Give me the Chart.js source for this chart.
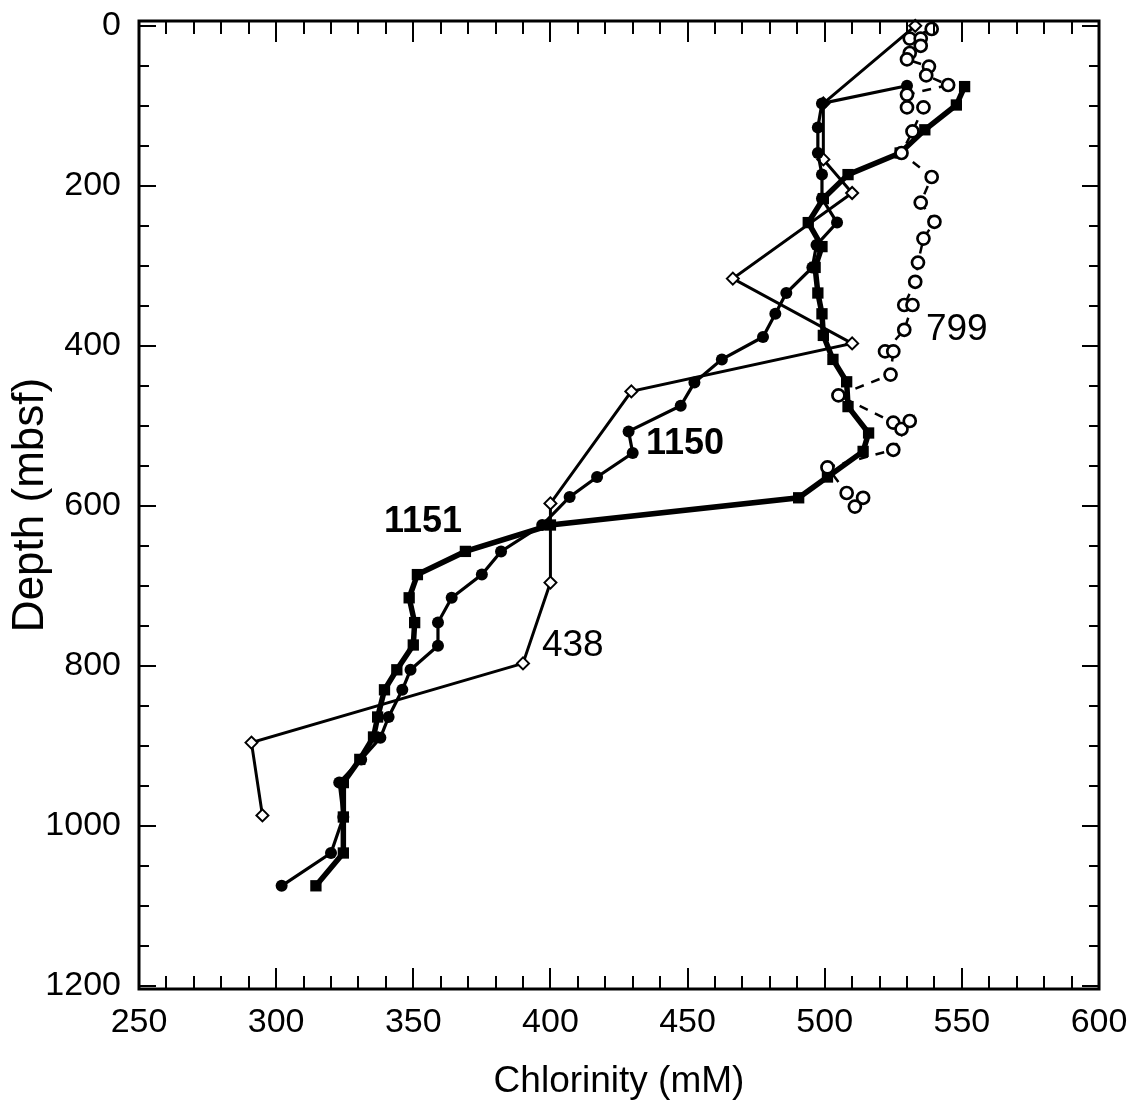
<!DOCTYPE html>
<html>
<head>
<meta charset="utf-8">
<script src="https://cdn.jsdelivr.net/npm/chart.js@4.4.1/dist/chart.umd.min.js"></script>
<style>
  html, body { margin: 0; padding: 0; background: #ffffff; }
  canvas { display: block; }
</style>
</head>
<body>
<canvas id="chlChart" width="1135" height="1108"></canvas>
<script>
// Site 799 (open circles, dashed)
const chl799 = [539, 531, 535, 535, 531, 530, 538, 537, 545, 530, 530, 536, 532, 528, 539, 535, 540, 536, 534, 533, 529, 532, 529, 522, 525, 524, 505, 525, 528, 531, 525, 501, 508, 514, 511];
const dep799 = [4, 16, 16, 25, 34, 42, 51, 62, 74, 86, 102, 102, 132, 159, 189, 221, 245, 266, 296, 320, 349, 349, 380, 407, 407, 436, 462, 496, 504, 494, 530, 552, 584, 590, 601];

// Site 1150 (filled circles)
const chl1150 = [530, 499, 497.5, 497.5, 499, 499, 504.5, 497, 495.5, 486, 482, 477.5, 462.5, 452.5, 447.5, 428.5, 430, 417, 407, 397, 382, 375, 364, 359, 359, 349, 346, 341, 338, 331, 323, 324.5, 320, 302];
const dep1150 = [75, 97, 127, 159, 186, 216, 246, 274, 302, 334, 360, 389, 417, 446, 475, 507, 534, 564, 589, 624, 657, 686, 715, 746, 775, 805, 830, 864, 890, 917, 946, 989, 1034, 1075];

// Site 1151 (filled squares, thick line)
const chl1151 = [551, 548, 536.5, 527.5, 508.5, 499.5, 494, 499, 496.5, 497.5, 499, 499.5, 503, 508, 508.5, 516, 514, 501, 490.5, 400, 369, 351.5, 348.5, 350.5, 350, 344, 339.5, 337, 335.5, 330.5, 324.5, 324.5, 324.5, 314.5];
const dep1151 = [76, 99, 130, 159, 186, 216, 246, 276, 302, 334, 360, 387, 417, 445, 476, 509, 532, 564, 590, 624, 657, 686, 715, 746, 774, 805, 830, 864, 889, 917, 946, 989, 1034, 1075];

// Site 438 (open diamonds)
const chl438 = [533, 499.5, 499.5, 510, 466.5, 510, 429.5, 400, 400, 390, 291, 295];
const dep438 = [0, 97, 167, 209, 316, 397, 457, 597, 696, 797, 896, 987];

// axis ticks
const xTicks = [250, 300, 350, 400, 450, 500, 550, 600];
const yTicks = [0, 200, 400, 600, 800, 1000, 1200];
const xMinor = [];
for (let v = 250; v <= 600; v += 10) xMinor.push(v);
const yMinor = [];
for (let v = 0; v <= 1200; v += 50) yMinor.push(v);

// curve labels
const siteLabels = [
  { text: "799", x: 536.9, y: 380, bold: false },
  { text: "438", x: 396.9, y: 775, bold: false },
  { text: "1150", x: 434.8, y: 523, bold: true },
  { text: "1151", x: 339.3, y: 620, bold: true },
];

const toPoints = (xs, ys) => xs.map((v, i) => ({ x: v, y: ys[i] }));

Chart.defaults.font.family = "'Liberation Sans', Arial, sans-serif";
Chart.defaults.color = "#000000";

// frame, inward ticks and site labels
const framePlugin = {
  id: "frame",
  afterDraw(chart) {
    const c = chart.ctx;
    const { left, right, top, bottom } = chart.chartArea;
    const xs = chart.scales.x;
    const ys = chart.scales.y;
    c.save();
    c.strokeStyle = "#000";
    c.lineWidth = 2;
    c.beginPath();
    xMinor.forEach((v) => {
      const px = Math.round(xs.getPixelForValue(v));
      const len = v % 50 === 0 ? 21 : 13;
      c.moveTo(px, bottom); c.lineTo(px, bottom - len);
      c.moveTo(px, top); c.lineTo(px, top + len);
    });
    yMinor.forEach((v) => {
      const py = Math.round(ys.getPixelForValue(v));
      const len = v % 200 === 0 ? 17 : 10;
      c.moveTo(left, py); c.lineTo(left + len, py);
      c.moveTo(right, py); c.lineTo(right - len, py);
    });
    c.stroke();
    c.lineWidth = 3;
    c.strokeRect(left, top, right - left, bottom - top);

    c.fillStyle = "#000";
    c.textAlign = "left";
    c.textBaseline = "middle";
    siteLabels.forEach((l) => {
      c.font = (l.bold ? "bold 36px " : "37px ") + "'Liberation Sans', Arial, sans-serif";
      c.fillText(l.text, xs.getPixelForValue(l.x), ys.getPixelForValue(l.y));
    });
    c.restore();
  },
};

const ctx = document.getElementById("chlChart").getContext("2d");
let chlChart = new Chart(ctx, {
  type: "scatter",
  data: {
    datasets: [
      {
        label: "799",
        data: toPoints(chl799, dep799),
        showLine: true,
        borderColor: "#000",
        borderWidth: 2.5,
        borderDash: [9, 8],
        pointStyle: "circle",
        pointRadius: 6,
        pointBorderWidth: 2.7,
        pointBackgroundColor: "#fff",
        pointBorderColor: "#000",
        order: 0,
        clip: false,
      },
      {
        label: "1151",
        data: toPoints(chl1151, dep1151),
        showLine: true,
        borderColor: "#000",
        borderWidth: 5.5,
        pointStyle: "rect",
        pointRadius: 8,
        pointBorderWidth: 0,
        pointBackgroundColor: "#000",
        order: 1,
        clip: false,
      },
      {
        label: "1150",
        data: toPoints(chl1150, dep1150),
        showLine: true,
        borderColor: "#000",
        borderWidth: 3.2,
        pointStyle: "circle",
        pointRadius: 6,
        pointBorderWidth: 0,
        pointBackgroundColor: "#000",
        order: 2,
        clip: false,
      },
      {
        label: "438",
        data: toPoints(chl438, dep438),
        showLine: true,
        borderColor: "#000",
        borderWidth: 3,
        pointStyle: "rectRot",
        pointRadius: 6,
        pointBorderWidth: 2,
        pointBackgroundColor: "#fff",
        pointBorderColor: "#000",
        order: 3,
        clip: false,
      },
    ],
  },
  options: {
    responsive: false,
    animation: false,
    devicePixelRatio: 1,
    layout: { padding: { top: 21, right: 36, left: 0, bottom: 0 } },
    scales: {
      x: {
        type: "linear",
        position: "bottom",
        min: 250,
        max: 600,
        afterBuildTicks: (axis) => { axis.ticks = xTicks.map((v) => ({ value: v })); },
        afterFit: (axis) => {
          axis.height = 119;
          axis.paddingLeft = 0;
          axis.paddingRight = 0;
        },
        grid: { display: false, drawTicks: false },
        border: { display: false },
        ticks: { font: { size: 34 }, padding: 13, color: "#000", maxRotation: 0, callback: (v) => String(v) },
        title: {
          display: true,
          text: "Chlorinity (mM)",
          font: { size: 37 },
          color: "#000",
          padding: { top: 4, bottom: 4 },
        },
      },
      y: {
        type: "linear",
        reverse: true,
        min: -6,
        max: 1204,
        afterBuildTicks: (axis) => { axis.ticks = yTicks.map((v) => ({ value: v })); },
        afterFit: (axis) => {
          axis.width = 139;
          axis.paddingTop = 0;
          axis.paddingBottom = 0;
        },
        grid: { display: false, drawTicks: false },
        border: { display: false },
        ticks: { font: { size: 34 }, padding: 18, color: "#000", callback: (v) => String(v) },
        title: {
          display: true,
          text: "Depth (mbsf)",
          font: { size: 44 },
          color: "#000",
          padding: { top: 4, bottom: 4 },
        },
      },
    },
    plugins: {
      legend: { display: false },
      tooltip: { enabled: false },
    },
  },
  plugins: [framePlugin],
});
</script>
</body>
</html>
